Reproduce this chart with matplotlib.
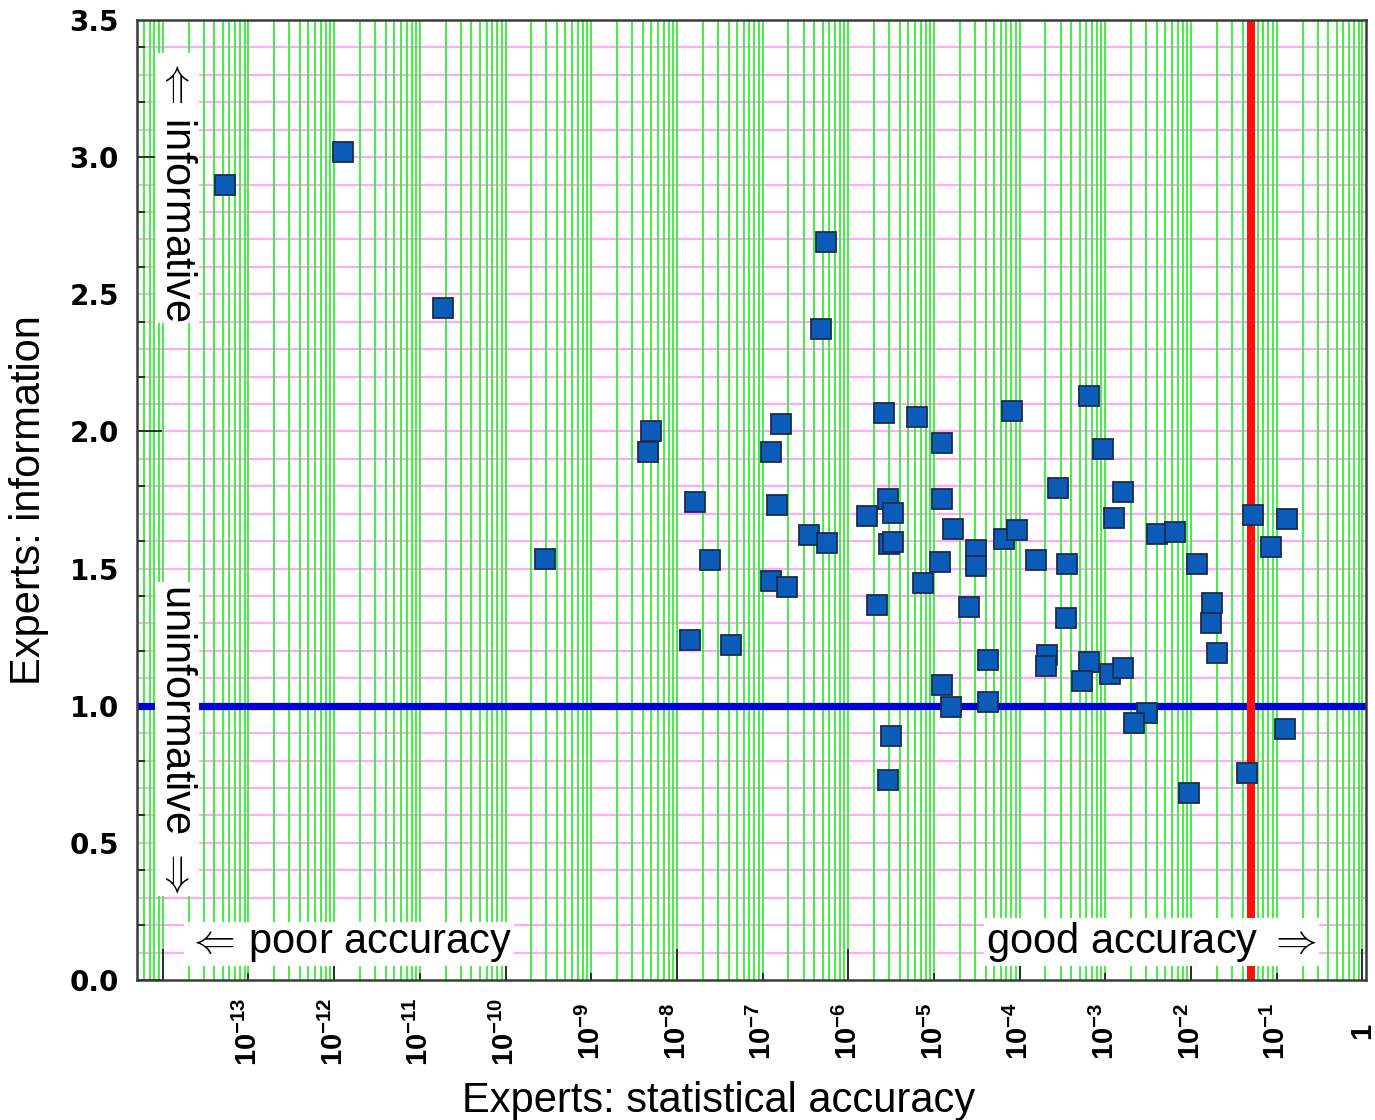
import numpy as np
import matplotlib
matplotlib.use('Agg')
import matplotlib.pyplot as plt
from matplotlib.ticker import NullLocator

# ---------------- data ----------------
accuracy = [
    5.3e-14, 1.26e-12, 1.85e-11, 2.87e-10,
    4.95e-9, 4.57e-9, 1.62e-8, 1.41e-8, 2.43e-8, 4.27e-8,
    1.26e-7, 1.63e-7, 1.49e-7, 1.26e-7, 1.91e-7,
    5.5e-7, 4.8e-7, 3.47e-7, 5.58e-7,
    1.66e-6, 2.19e-6, 2.63e-6, 2.88e-6, 3.34e-6, 3.02e-6, 3.31e-6, 3.12e-6, 2.88e-6,
    6.38e-6, 7.41e-6,
    1.23e-5, 1.23e-5, 1.68e-5, 1.17e-5, 1.23e-5, 1.58e-5, 2.54e-5, 3.09e-5, 3.09e-5,
    4.30e-5, 4.30e-5, 6.6e-5, 8.18e-5, 9.38e-5,
    1.55e-4, 2.07e-4, 2.01e-4, 2.77e-4, 3.55e-4, 3.47e-4, 6.49e-4, 6.49e-4, 5.37e-4,
    9.46e-4, 1.26e-3, 1.59e-3, 1.13e-3, 1.59e-3, 3.03e-3, 2.17e-3, 3.98e-3, 6.5e-3,
    1.16e-2, 9.55e-3, 1.77e-2, 1.69e-2, 2.02e-2, 4.47e-2, 5.33e-2, 8.57e-2, 0.131, 0.125,
]
information = [
    2.90, 3.02, 2.45, 1.535,
    2.00, 1.925, 1.742, 1.24, 1.53, 1.22,
    1.926, 2.027, 1.73, 1.455, 1.434,
    2.69, 2.373, 1.622, 1.594,
    1.692, 1.367, 2.067, 1.752, 1.701, 1.590, 1.598, 0.890, 0.729,
    2.054, 1.446,
    1.957, 1.752, 1.644, 1.525, 1.075, 0.996, 1.361, 1.568, 1.509,
    1.167, 1.015, 1.607, 2.074, 1.641,
    1.531, 1.185, 1.146, 1.793, 1.516, 1.319, 2.129, 1.161, 1.091,
    1.935, 1.683, 1.780, 1.116, 1.139, 0.972, 0.938, 1.626, 1.632,
    1.517, 0.681, 1.373, 1.303, 1.193, 0.754, 1.695, 1.580, 1.680, 0.914,
]

x_tick_exponents = list(range(-14, 1))
x_tick_labels = [''] + [r'$\mathbf{10^{%d}}$' % e for e in range(-13, 0)] + ['1']
y_tick_values = [0.0, 0.5, 1.0, 1.5, 2.0, 2.5, 3.0, 3.5]
y_tick_labels = ['0.0', '0.5', '1.0', '1.5', '2.0', '2.5', '3.0', '3.5']

accuracy_threshold = 0.05
information_reference = 1.0

# ---------------- style ----------------
plt.rcParams['font.family'] = ['Liberation Sans', 'DejaVu Sans']
plt.rcParams['mathtext.fontset'] = 'custom'
plt.rcParams['mathtext.rm'] = 'Liberation Sans:bold'
plt.rcParams['mathtext.it'] = 'Liberation Sans:bold'
plt.rcParams['mathtext.bf'] = 'Liberation Sans:bold'

W, H = 1375, 1120
fig = plt.figure(figsize=(W / 100, H / 100), dpi=100)
ax = fig.add_axes([137 / W, 1 - 980 / H, (1366 - 137) / W, 960 / H])
ax.set_xscale('log')
ax.set_xlim(5e-15, 1.1)
ax.set_ylim(0, 3.5)

# grid lines
grid_x = [m * 10.0 ** e for e in range(-15, 1) for m in range(1, 10)]
grid_x = [g for g in grid_x if 5e-15 < g <= 1.1]
grid_y = [round(0.1 * k, 1) for k in range(1, 35)]
ax.hlines(grid_y, 0, 1, transform=ax.get_yaxis_transform(),
          colors='#ffaaf8', lw=1.6, zorder=0.8)
ax.vlines(grid_x, 0, 1, transform=ax.get_xaxis_transform(),
          colors='#36ee36', lw=1.3, zorder=0.9)

# reference lines
ax.axhline(information_reference, color='#0000d8', lw=5.2, zorder=2)
ax.axvline(accuracy_threshold, color='#ff1010', lw=5.8, zorder=2.2)

# points
ax.plot(accuracy, information, linestyle='none', marker='s', ms=14,
        mfc='#0a5cb8', mec='#1a2c50', mew=1.3, zorder=3)

# ticks
ax.set_xticks([10.0 ** e for e in x_tick_exponents])
ax.set_xticklabels(x_tick_labels, rotation=90, fontsize=21, fontweight='bold',
                   va='center')
ax.xaxis.set_minor_locator(NullLocator())
ax.tick_params(axis='x', which='major', direction='in', pad=37, width=1.3,
               color='#222222', top=False)

ax.set_yticks(y_tick_values)
ax.set_yticklabels(y_tick_labels, fontsize=20, fontweight='bold',
                   family='DejaVu Sans')
ax.set_yticks([v for v in np.round(np.arange(0.2, 3.5, 0.2), 1)
               if abs(v - round(v)) > 1e-6], minor=True)
ax.tick_params(axis='y', which='major', direction='in', pad=13, width=1.3,
               color='#222222', right=False)
ax.tick_params(axis='y', which='minor', direction='in', length=6, width=1.3,
               color='#222222', right=False)

for e, t in zip(x_tick_exponents, ax.xaxis.get_major_ticks()):
    t.tick1line.set_markersize(22 if e % 2 == 0 else 5)
for v, t in zip(y_tick_values, ax.yaxis.get_major_ticks()):
    t.tick1line.set_markersize(18 if abs(v - round(v)) < 1e-6 else 0)

for s in ax.spines.values():
    s.set_color('#3a3a3a')
    s.set_linewidth(1.8)
    s.set_zorder(5)

# axis labels
ax.set_xlabel('Experts: statistical accuracy', fontsize=30, va='baseline')
ax.xaxis.set_label_coords((719 - 137) / 1229, (980 - 1112) / 960)
ax.set_ylabel('Experts: information', fontsize=30, va='center')
ax.yaxis.set_label_coords((29 - 137) / 1229, 0.5)

# annotations with white boxes
box = dict(boxstyle='square,pad=0.05', facecolor='white', edgecolor='none')
ax.text((186 - 137) / 1229, (980 - 953) / 960, r'$\Leftarrow\,$poor accuracy',
        transform=ax.transAxes, fontsize=30, ha='left', va='baseline',
        bbox=box, zorder=6)
ax.text((986 - 137) / 1229, (980 - 953) / 960, r'good accuracy $\Rightarrow$',
        transform=ax.transAxes, fontsize=30, ha='left', va='baseline',
        bbox=box, zorder=6)
ax.text((177 - 137) / 1229, (980 - 55) / 960, r'$\Leftarrow\,$informative',
        transform=ax.transAxes, fontsize=30, rotation=270, ha='center',
        va='top', bbox=box, zorder=6)
ax.text((177 - 137) / 1229, (980 - 894) / 960, r'uninformative $\Rightarrow$',
        transform=ax.transAxes, fontsize=30, rotation=270, ha='center',
        va='bottom', bbox=box, zorder=6)

fig.savefig('out.png', dpi=100)
